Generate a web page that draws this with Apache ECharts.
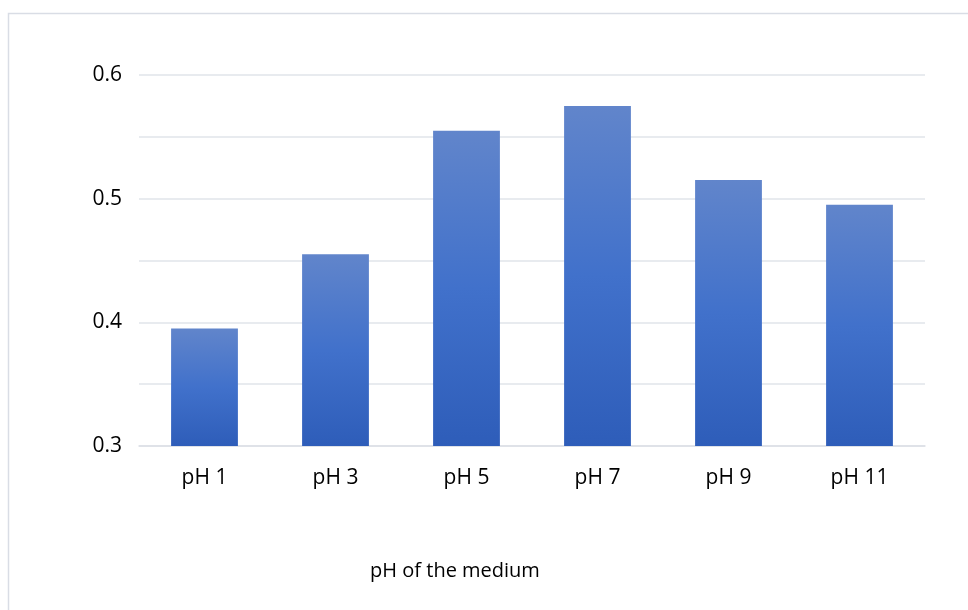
<!DOCTYPE html>
<html>
<head>
<meta charset="utf-8">
<script src="https://cdn.jsdelivr.net/npm/echarts@6/dist/echarts.min.js"></script>
<style>
  html, body { margin: 0; padding: 0; background: #fff; }
  #chart { width: 968px; height: 610px; }
</style>
</head>
<body>
<div id="chart"></div>
<script>
// pH categories and measured values
const categories = ['pH 1', 'pH 3', 'pH 5', 'pH 7', 'pH 9', 'pH 11'];
const values = [0.395, 0.455, 0.555, 0.575, 0.515, 0.495];
const yTicks = [0.3, 0.4, 0.5, 0.6];
const axisTitle = 'pH of the medium';

const FONT = '"Open Sans", "Liberation Sans", sans-serif';
const chart = echarts.init(document.getElementById('chart'), null, { renderer: 'canvas' });

chart.setOption({
  animation: false,
  backgroundColor: '#ffffff',
  grid: { left: 139, right: 43, top: 75, bottom: 164 },
  graphic: [
    {
      type: 'rect',
      shape: { x: 8.5, y: 13.5, width: 1000, height: 700 },
      style: { fill: 'none', stroke: '#d9dde5', lineWidth: 1.5 },
      silent: true,
      z: -1
    },
    {
      type: 'text',
      x: 455,
      y: 571,
      style: {
        text: axisTitle,
        font: '20px ' + FONT,
        fill: '#000000',
        align: 'center',
        verticalAlign: 'middle'
      }
    }
  ],
  xAxis: {
    type: 'category',
    data: categories,
    axisLine: { show: true, lineStyle: { color: '#dcdfe6', width: 1.5 } },
    axisTick: { show: false },
    axisLabel: { color: '#000', fontSize: 21, fontFamily: FONT, margin: 22 }
  },
  yAxis: {
    type: 'value',
    min: 0.3,
    max: 0.6,
    interval: 0.05,
    axisLine: { show: false },
    axisTick: { show: false },
    splitLine: { lineStyle: { color: '#e1e4ea', width: 1.5 } },
    axisLabel: {
      color: '#000',
      fontSize: 21,
      fontFamily: FONT,
      margin: 17,
      formatter: function (v) {
        const hit = yTicks.find(t => Math.abs(t - v) < 1e-6);
        return hit === undefined ? '' : hit.toFixed(1);
      }
    }
  },
  series: [{
    type: 'bar',
    data: values,
    barWidth: '51%',
    itemStyle: {
      color: new echarts.graphic.LinearGradient(0, 0, 0, 1, [
        { offset: 0, color: '#6185cb' },
        { offset: 0.5, color: '#4171cb' },
        { offset: 1, color: '#2e5db9' }
      ])
    }
  }]
});
</script>
</body>
</html>
